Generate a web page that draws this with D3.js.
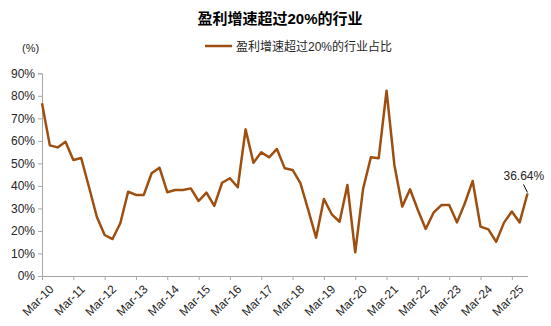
<!DOCTYPE html>
<html><head><meta charset="utf-8">
<script src="https://cdn.jsdelivr.net/npm/d3@7"></script>
<style>
body{margin:0;background:#fff;}
svg{display:block;font-family:"Liberation Sans",Arial,"Noto Sans CJK SC",sans-serif;}
</style></head>
<body>
<svg id="c" width="551" height="326"></svg>
<script>
const years = ["10","11","12","13","14","15","16","17","18","19","20","21","22","23","24","25"];
const quarters = ["Mar","Jun","Sep","Dec"];
const categories = [];
years.forEach(y => quarters.forEach(q => categories.push(q + "-" + y)));
categories.splice(63);
const values = [
 76.7,58.0,57.1,59.6,51.5,52.4,39.5,26.3,18.2,16.4,23.4,37.4,36.0,36.0,45.6,48.1,
 37.2,38.2,38.2,38.9,33.3,37.0,31.1,41.4,43.4,39.4,65.1,50.3,54.9,52.7,56.4,47.8,
 47.1,41.2,29.3,17.0,34.2,27.4,24.1,40.4,10.5,38.6,52.7,52.3,82.3,49.3,30.8,38.5,
 29.3,20.9,28.1,31.5,31.5,23.8,32.3,42.2,21.9,20.7,15.2,23.7,28.6,23.8,36.64
];
const tickLabels = ["Mar-10","Mar-11","Mar-12","Mar-13","Mar-14","Mar-15","Mar-16","Mar-17","Mar-18","Mar-19","Mar-20","Mar-21","Mar-22","Mar-23","Mar-24","Mar-25"];
const yTicks = [0,10,20,30,40,50,60,70,80,90];
const title = "盈利增速超过20%的行业";
const seriesName = "盈利增速超过20%的行业占比";
const lastLabel = "36.64%";

const svg = d3.select("#c");
const lineColor = "#9E4F0F";
const axisColor = "#a6a6a6";
const textColor = "#262626";

const x = d3.scalePoint().domain(categories).range([42, 527.5]);
const y = d3.scaleLinear().domain([0, 90]).range([276, 73.3]);

// title
svg.append("text").attr("x", 280).attr("y", 24).attr("text-anchor", "middle")
  .attr("font-size", 15).attr("font-weight", "bold").attr("fill", "#000").text(title);
// legend
svg.append("line").attr("x1", 205).attr("x2", 232).attr("y1", 46).attr("y2", 46)
  .attr("stroke", lineColor).attr("stroke-width", 2.5);
svg.append("text").attr("x", 236).attr("y", 50.5).attr("font-size", 12).attr("fill", textColor).text(seriesName);
// unit
svg.append("text").attr("x", 22).attr("y", 52).attr("font-size", 11).attr("fill", textColor).text("(%)");

// y axis
const yAxis = svg.append("g").attr("transform", "translate(42,0)")
  .call(d3.axisLeft(y).tickValues(yTicks).tickSize(4).tickPadding(3).tickFormat(d => d + "%"));
yAxis.selectAll("path,line").attr("stroke", axisColor);
yAxis.selectAll("text").attr("font-size", 12).attr("fill", textColor)
  .attr("font-family", "'Liberation Sans',Arial,sans-serif");

// x axis
const xAxis = svg.append("g").attr("transform", "translate(0,276)")
  .call(d3.axisBottom(x).tickValues(tickLabels).tickSize(4).tickSizeOuter(0));
xAxis.select("path").attr("stroke", axisColor).attr("stroke-width", 1.2);
xAxis.selectAll("line").attr("stroke", axisColor);
xAxis.selectAll("text").attr("font-size", 12).attr("fill", textColor)
  .attr("font-family", "'Liberation Sans',Arial,sans-serif")
  .attr("text-anchor", "end").attr("dy", "0.35em")
  .attr("transform", "translate(4,6) rotate(-45)");

// line
const line = d3.line().x((d, i) => x(categories[i])).y(d => y(d));
svg.append("path").datum(values).attr("d", line).attr("fill", "none")
  .attr("stroke", lineColor).attr("stroke-width", 2.5).attr("stroke-linejoin", "round");

// last label
const lx = x(categories[categories.length - 1]);
const ly = y(values[values.length - 1]);
svg.append("line").attr("x1", lx - 4).attr("y1", ly - 9).attr("x2", lx).attr("y2", ly - 1)
  .attr("stroke", "#000").attr("stroke-width", 1);
svg.append("text").attr("x", lx - 24).attr("y", ly - 13).attr("font-size", 12)
  .attr("fill", textColor).text(lastLabel);
</script>
</body></html>
